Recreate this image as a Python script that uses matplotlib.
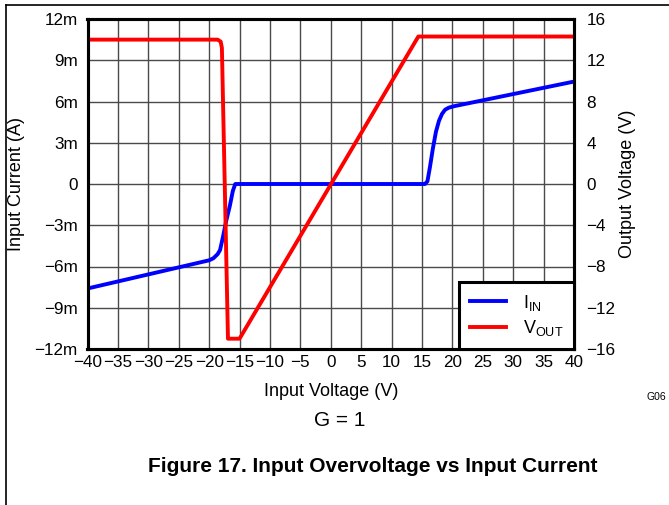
import matplotlib
matplotlib.use("Agg")
import matplotlib.pyplot as plt
from matplotlib.lines import Line2D

plt.rcParams['font.family'] = ['Liberation Sans', 'DejaVu Sans']
plt.rcParams['axes.unicode_minus'] = True

# input current (mA) vs input voltage (V)
vin_i = [-40, -20, -19.3, -18.6, -18.2, -17.7, -17.2, -16.6, -16.1, -15.7,
         15.5, 15.9, 16.3, 16.8, 17.3, 17.8, 18.3, 18.8, 19.4, 20.2, 40]
iin = [-7.6, -5.55, -5.4, -5.1, -4.8, -3.8, -2.7, -1.6, -0.5, 0.0,
       0.0, 0.2, 1.2, 2.6, 3.8, 4.6, 5.1, 5.4, 5.55, 5.65, 7.45]

# output voltage (V) vs input voltage (V)
vin_v = [-40, -18.6, -18.1, -17.9, -16.9, -15.0, 14.4, 40]
vout = [14.0, 14.0, 13.8, 13.2, -15.0, -15.0, 14.3, 14.3]

xticks = list(range(-40, 41, 5))
iticks = [-12, -9, -6, -3, 0, 3, 6, 9, 12]
ilabels = ['\u221212m', '\u22129m', '\u22126m', '\u22123m', '0', '3m', '6m', '9m', '12m']
vticks = [-16, -12, -8, -4, 0, 4, 8, 12, 16]

fig = plt.figure(figsize=(6.69, 5.05), dpi=100)
ax = fig.add_axes([87.5/669, 1-349/505, (574-87.5)/669, (349-19)/505])
ax2 = ax.twinx()

ax.plot(vin_i, iin, color='#0000ff', lw=2.8, solid_joinstyle='round', label='$\\mathregular{I_{IN}}$')
ax2.plot(vin_v, vout, color='#ff0000', lw=2.8, solid_joinstyle='round', label='$\\mathregular{V_{OUT}}$')

ax.set_xlim(-40, 40)
ax.set_ylim(-12, 12)
ax2.set_ylim(-16, 16)
ax.set_xticks(xticks)
ax.set_xticklabels([str(t).replace('-', '\u2212') for t in xticks])
ax.set_yticks(iticks)
ax.set_yticklabels(ilabels)
ax2.set_yticks(vticks)
ax2.set_yticklabels([str(t).replace('-', '\u2212') for t in vticks])
ax.grid(True, color='#4a4a4a', lw=1.0)
ax.set_axisbelow(True)

for a in (ax, ax2):
    for s in a.spines.values():
        s.set_linewidth(2.2)
        s.set_color('black')
ax.tick_params(axis='both', length=0, labelsize=12.3, colors='black')
ax.tick_params(axis='x', pad=4)
ax.tick_params(axis='y', pad=7)
ax2.tick_params(axis='y', length=0, labelsize=12.3, pad=9)

h1, l1 = ax.get_legend_handles_labels()
h2, l2 = ax2.get_legend_handles_labels()
leg = ax2.legend(h1 + h2, l1 + l2, loc='lower right', borderaxespad=0, fancybox=False,
                 framealpha=1, edgecolor='black', fontsize=13, handlelength=2.0,
                 borderpad=0.6, labelspacing=0.3, handletextpad=0.9)
leg.get_frame().set_linewidth(2.2)

fig.text(331/669, 1-392/505, 'Input Voltage (V)', ha='center', va='center', fontsize=13)
fig.text(17/669, 1-184/505, 'Input Current (A)', ha='center', va='center', rotation=90, fontsize=13)
fig.text(628/669, 1-184/505, 'Output Voltage (V)', ha='center', va='center', rotation=90, fontsize=13)
fig.text(340/669, 1-420/505, 'G = 1', ha='center', va='center', fontsize=15)
fig.text(373/669, 1-467/505, 'Figure 17. Input Overvoltage vs Input Current', ha='center', va='center',
         fontsize=15, fontweight='bold')
fig.text(656/669, 1-397/505, 'G06', ha='center', va='center', fontsize=7.5)

# page frame lines
fig.add_artist(Line2D([6/669, 1], [1-5/505, 1-5/505], transform=fig.transFigure, color='black', lw=1.2))
fig.add_artist(Line2D([6/669, 6/669], [0, 1-5/505], transform=fig.transFigure, color='black', lw=1.2))

fig.savefig('out.png', dpi=100)
